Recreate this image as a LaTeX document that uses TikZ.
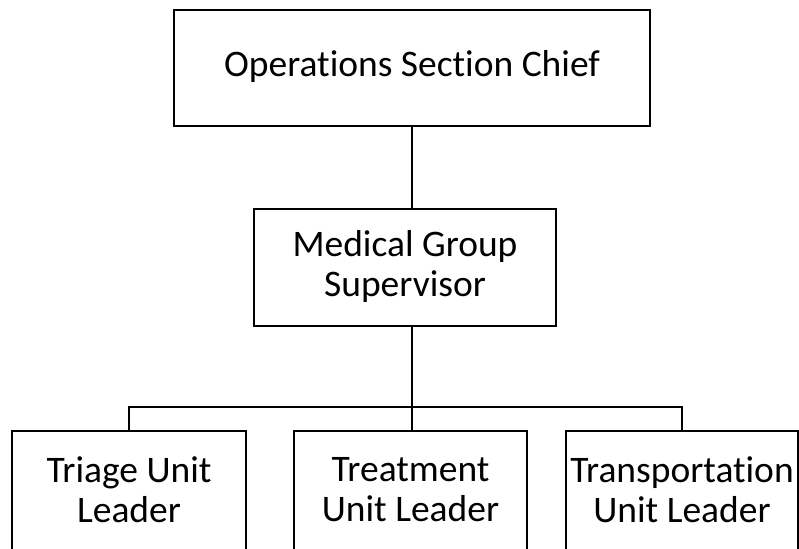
\documentclass[tikz,border=0pt]{standalone}
\usepackage{fontspec}
\setmainfont{Carlito}[Ligatures=NoCommon]
\begin{document}
\begin{tikzpicture}[x=1pt,y=1pt,
  box/.style={draw=black, line width=2.5pt, fill=white, inner sep=0pt, minimum width=#1},
  lbl/.style={font=\fontsize{37.5}{40}\selectfont, align=center, inner sep=0pt},
  conn/.style={draw=black, line width=2.3pt}]
\useasboundingbox (0,0) rectangle (799,548);
\clip (0,0) rectangle (799,548);
% boxes
\node[box=476pt, minimum height=116pt] (top) at (412,480) {};
\node[lbl] (toplbl) at (412,481) {Operations Section Chief};
\node[box=302pt, minimum height=117pt] (mid) at (405,280.5) {};
\node[lbl] (midlbl) at (405,281) {Medical Group\\Supervisor};
\node[box=234pt, minimum height=125pt] (a) at (129,54.5) {};
\node[box=233pt, minimum height=125pt] (b) at (410.5,54.5) {};
\node[box=232pt, minimum height=125pt] (c) at (682,54.5) {};
\node[lbl] (alb) at (129,58) {Triage Unit\\Leader};
\node[lbl] (blb) at (410.5,58) {Treatment\\Unit Leader};
\node[lbl] (clb) at (682,58) {Transportation\\Unit Leader};
% connectors
\coordinate (j) at (412,141);
\draw[conn] (top.south) -- (top.south |- mid.north);
\draw[conn] (top.south |- mid.south) -- (j);
\draw[conn, line cap=rect] (a.north |- j) -- (c.north |- j);
\draw[conn] (a.north |- j) -- (a.north);
\draw[conn] (j) -- (j |- b.north);
\draw[conn] (c.north |- j) -- (c.north);
\end{tikzpicture}
\end{document}
